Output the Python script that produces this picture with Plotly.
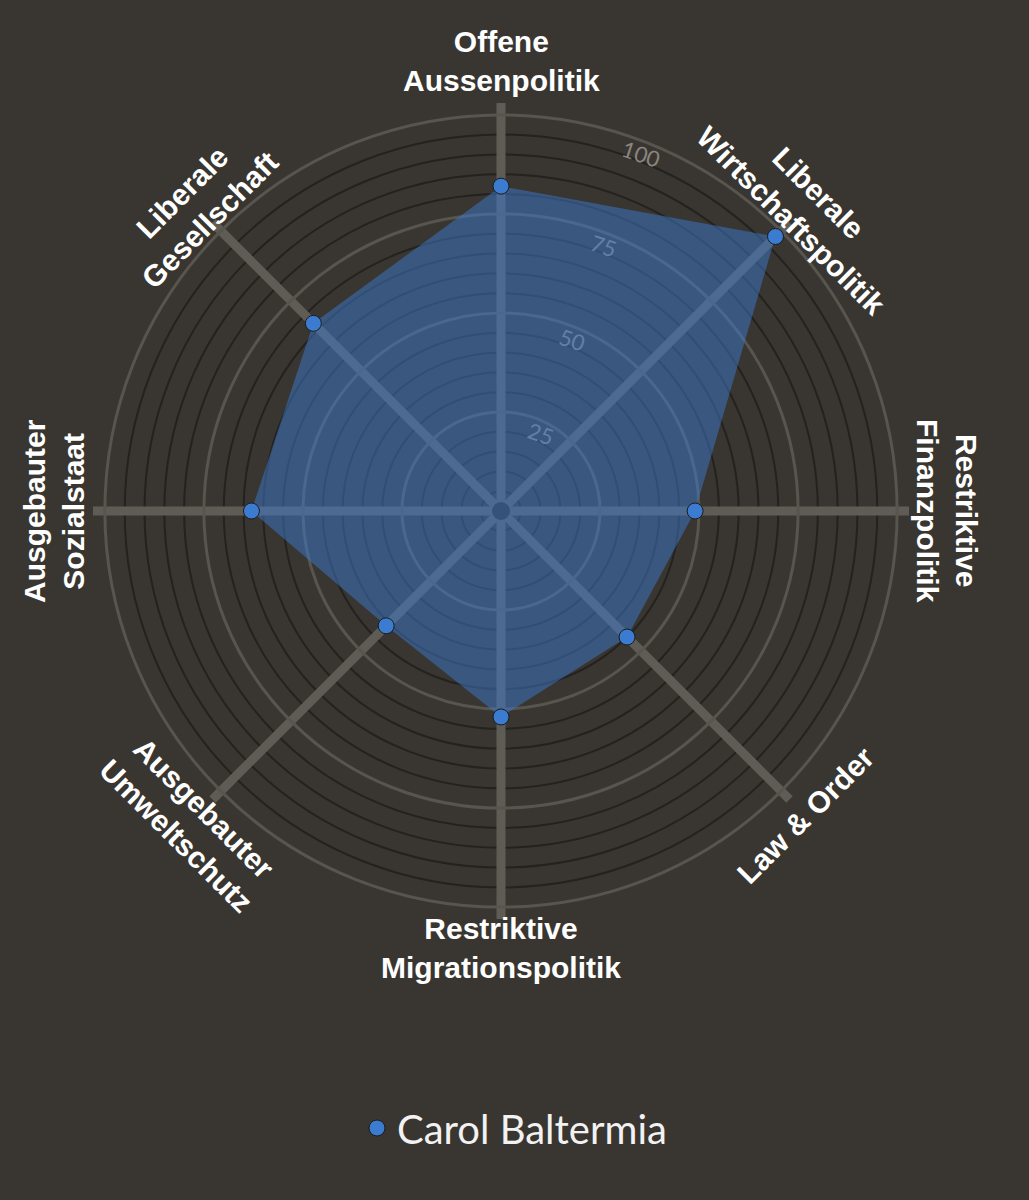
import math
import plotly.graph_objects as go

# smartspider profile, values 0..100, clockwise from the top
categories = [
    "Offene Aussenpolitik",
    "Liberale Wirtschaftspolitik",
    "Restriktive Finanzpolitik",
    "Law & Order",
    "Restriktive Migrationspolitik",
    "Ausgebauter Umweltschutz",
    "Ausgebauter Sozialstaat",
    "Liberale Gesellschaft",
]
axis_labels = [
    "Offene<br>Aussenpolitik",
    "Liberale<br>Wirtschaftspolitik",
    "Restriktive<br>Finanzpolitik",
    "Law & Order",
    "Restriktive<br>Migrationspolitik",
    "Ausgebauter<br>Umweltschutz",
    "Ausgebauter<br>Sozialstaat",
    "Liberale<br>Gesellschaft",
]
values = [82, 98, 49, 45, 52, 41, 63, 67]
candidate = "Carol Baltermia"
major_ticks = [25, 50, 75, 100]
major_text = ["25", "50", "75", "100"]

BG = "#393631"
W, H = 1029, 1200
CX, CY, R = 501, 511, 408  # pixel centre / radius of the spider

dom_x = [(CX - R) / W, (CX + R) / W]
dom_y = [1 - (CY + R) / H, 1 - (CY - R) / H]

fig = go.Figure()

# bottom layer just needs a trace so it gets drawn
fig.add_trace(go.Scatterpolar(
    r=[0], theta=[categories[0]], mode="markers",
    marker=dict(size=1, opacity=0), showlegend=False, hoverinfo="skip",
    subplot="polar",
))

fig.add_trace(go.Scatterpolar(
    r=[0], theta=[categories[0]], mode="markers",
    marker=dict(size=18, color="#2c2a27"), showlegend=False, hoverinfo="skip",
    subplot="polar2",
))

fig.add_trace(go.Scatterpolar(
    r=values + values[:1], theta=categories + categories[:1],
    mode="lines", fill="toself",
    fillcolor="rgba(60,122,205,0.5)", line=dict(width=0, color="rgba(0,0,0,0)"),
    showlegend=False, hoverinfo="skip", subplot="polar2",
))

fig.add_trace(go.Scatterpolar(
    r=values, theta=categories, mode="markers", name=candidate,
    marker=dict(size=16, color="#3b7bd0", line=dict(width=1, color="#1c1c1c")),
    subplot="polar2",
))

common_ang = dict(
    categoryarray=categories, categoryorder="array",
    rotation=90, direction="clockwise",
    showticklabels=False, ticks="", showline=False,
)

fig.update_layout(
    width=W, height=H,
    margin=dict(l=0, r=0, t=0, b=0),
    paper_bgcolor=BG,
    polar=dict(
        domain=dict(x=dom_x, y=dom_y),
        bgcolor=BG,
        radialaxis=dict(range=[0, 103], dtick=5, showticklabels=False, ticks="",
                        showline=False, gridcolor="#24221e", gridwidth=1.5),
        angularaxis=dict(showgrid=False, **common_ang),
    ),
    polar2=dict(
        domain=dict(x=dom_x, y=dom_y),
        bgcolor="rgba(0,0,0,0)",
        radialaxis=dict(range=[0, 103], tickvals=major_ticks,
                        ticktext=["&nbsp;<br>" + t for t in major_text], ticks="",
                        showline=False, gridcolor="#58554f", gridwidth=3,
                        angle=71.5, tickangle=90, layer="below traces",
                        tickfont=dict(family="Lato", size=22, color="#8a867f")),
        angularaxis=dict(showgrid=True, gridcolor="#5f5c56", gridwidth=9,
                         layer="below traces", **common_ang),
    ),
    legend=dict(
        x=0.5, y=0.06, xanchor="center", yanchor="middle",
        orientation="h", bgcolor="rgba(0,0,0,0)",
        font=dict(family="Lato", size=40, color="#f2f2f2"),
    ),
)

# axis titles around the rim, rotated to follow the circle
label_r = [450, 430, 446, 430, 437, 440, 447, 431]
angles = [0, 45, 90, -45, 0, 45, -90, -45]
for i, (txt, rot) in enumerate(zip(axis_labels, angles)):
    a = math.radians(i * 45)
    px = CX + label_r[i] * math.sin(a)
    py = CY - label_r[i] * math.cos(a)
    fig.add_annotation(
        x=px / W, y=1 - py / H, xref="paper", yref="paper",
        text="<b>" + txt + "</b>", showarrow=False, textangle=rot,
        xanchor="center", yanchor="middle",
        font=dict(family="Liberation Sans", size=30, color="#ffffff"),
    )

fig.write_html(
    "out.html",
    config={"displayModeBar": False},
    post_script="document.body.style.margin='0';document.body.style.background='%s';" % BG,
)
